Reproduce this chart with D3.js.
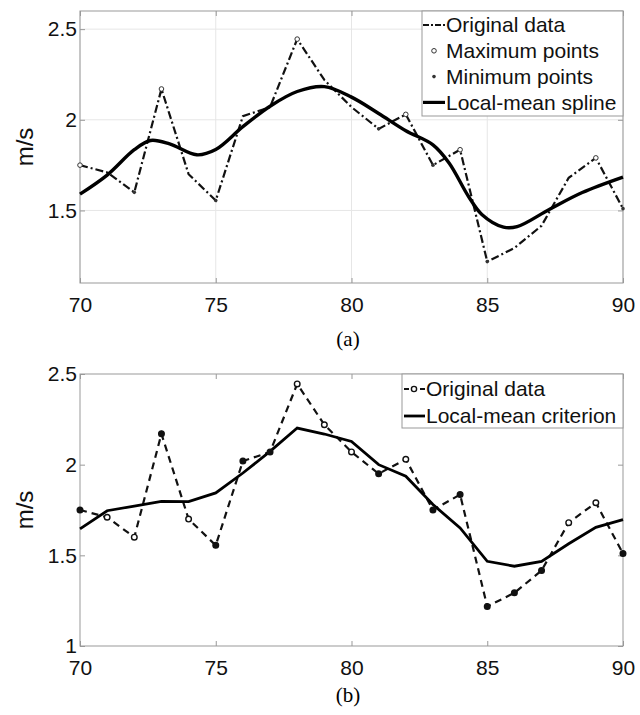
<!DOCTYPE html>
<html>
<head>
<meta charset="utf-8">
<script src="https://cdn.jsdelivr.net/npm/d3@7"></script>
<style>
  body { margin: 0; background: #fff; }
  text { font-family: "Liberation Sans", Arial, sans-serif; }
</style>
</head>
<body>
<div id="vis"></div>
<script>
// original wind speed samples (m/s)
let timeX = [70,71,72,73,74,75,76,77,78,79,80,81,82,83,84,85,86,87,88,89,90]
let original = [1.75,1.71,1.60,2.17,1.70,1.555,2.02,2.07,2.445,2.22,2.07,1.95,2.03,1.75,1.835,1.218,1.293,1.416,1.68,1.79,1.51]

// extrema used in panel (a)
let maxX = [70,73,78,82,84,89]
let minX = [72,75,81,83,85,90]

// local-mean spline
let splineX = [70,71,72,72.6,73.3,74.3,75,76,77,78,79,80,81,82,83,83.6,84.3,84.8,85.6,86.1,87.3,88.5,90]
let splineY = [1.59,1.695,1.835,1.886,1.867,1.807,1.836,1.962,2.075,2.156,2.183,2.125,2.035,1.94,1.862,1.761,1.58,1.478,1.408,1.411,1.507,1.599,1.684]

// local-mean criterion, panel (b)
let criterion = [1.646,1.746,1.772,1.798,1.796,1.844,1.954,2.073,2.202,2.169,2.128,2.0,1.936,1.78,1.651,1.467,1.44,1.467,1.564,1.654,1.697]
let filledB = [70,73,75,76,77,81,83,84,85,86,87,90]

let xTicks = [70,75,80,85,90]
let yTicksA = [1.5,2,2.5]
let yTicksB = [1,1.5,2,2.5]

let width = 640, height = 715
let left = 80, right = 623

let svg = d3.select('#vis').append('svg')
    .attr('width', width).attr('height', height)

let x = d3.scaleLinear().domain([70,90]).range([left,right])

function frame(g, y, yTicks, top, bottom, grid) {
    if (grid) {
        g.selectAll('.gx').data(xTicks).join('line')
            .attr('x1', d=>x(d)).attr('x2', d=>x(d))
            .attr('y1', top).attr('y2', bottom)
            .attr('stroke', '#e6e6e6')
        g.selectAll('.gy').data(yTicks).join('line')
            .attr('x1', left).attr('x2', right)
            .attr('y1', d=>y(d)).attr('y2', d=>y(d))
            .attr('stroke', '#e6e6e6')
    }
    // tick marks on top and right
    g.append('g').attr('transform', `translate(0,${top})`)
        .call(d3.axisTop(x).tickValues(xTicks).tickSize(-5).tickFormat(''))
    g.append('g').attr('transform', `translate(${right},0)`)
        .call(d3.axisRight(y).tickValues(yTicks).tickSize(-5).tickFormat(''))
    g.append('g').attr('transform', `translate(0,${bottom})`)
        .call(d3.axisBottom(x).tickValues(xTicks).tickSize(-5).tickPadding(14).tickFormat(d3.format('d')))
    g.append('g').attr('transform', `translate(${left},0)`)
        .call(d3.axisLeft(y).tickValues(yTicks).tickSize(-5).tickPadding(3).tickFormat(d=>String(d)))
    g.selectAll('.domain').remove()
    g.selectAll('.tick line').attr('stroke', '#999')
    g.selectAll('.tick text').attr('font-size', 21).attr('fill', '#111')
        .style('font-family', '"Liberation Sans", Arial, sans-serif')
    g.append('rect').attr('x', left).attr('y', top)
        .attr('width', right-left).attr('height', bottom-top)
        .attr('fill', 'none').attr('stroke', '#999')
    g.append('text').text('m/s')
        .attr('transform', `translate(33,${(top+bottom)/2}) rotate(-90)`)
        .attr('text-anchor', 'middle').attr('font-size', 24).attr('fill', '#111')
}

// ---------- panel (a)
let topA = 11, botA = 283
let yA = d3.scaleLinear().domain([1.1,2.6]).range([botA,topA])
let gA = svg.append('g')
frame(gA, yA, yTicksA, topA, botA, true)

let lineA = d3.line().x((d,i)=>x(timeX[i])).y(d=>yA(d))
gA.append('path').datum(original)
    .attr('d', lineA).attr('fill','none').attr('stroke','#111')
    .attr('stroke-width', 2.2).attr('stroke-dasharray', '8,3,2,3')

let splineLine = d3.line().curve(d3.curveCatmullRom.alpha(0.5))
    .x((d,i)=>x(splineX[i])).y(d=>yA(d))
gA.append('path').datum(splineY)
    .attr('d', splineLine).attr('fill','none').attr('stroke','#000')
    .attr('stroke-width', 3.4)

gA.selectAll('.mx').data(maxX).join('circle')
    .attr('cx', d=>x(d)).attr('cy', d=>yA(original[timeX.indexOf(d)]))
    .attr('r', 2.3).attr('fill','#fff').attr('stroke','#333').attr('stroke-width',1)
gA.selectAll('.mn').data(minX).join('circle')
    .attr('cx', d=>x(d)).attr('cy', d=>yA(original[timeX.indexOf(d)]))
    .attr('r', 1.8).attr('fill','#333')

// legend (a)
let legA = gA.append('g')
legA.append('rect').attr('x', 422).attr('y', topA).attr('width', right-422).attr('height', 105)
    .attr('fill','#fff').attr('stroke','#999')
let namesA = ['Original data','Maximum points','Minimum points','Local-mean spline']
namesA.forEach((n,i)=>{
    let cy = 25 + i*25.8
    legA.append('text').text(n).attr('x', 446).attr('y', cy).attr('dy','0.35em')
        .attr('font-size', 21).attr('fill','#111')
    if (i==0) legA.append('line').attr('x1',423).attr('x2',445).attr('y1',cy).attr('y2',cy)
        .attr('stroke','#111').attr('stroke-width',2).attr('stroke-dasharray','6,2,2,2')
    if (i==1) legA.append('circle').attr('cx',434).attr('cy',cy).attr('r',2.3)
        .attr('fill','#fff').attr('stroke','#333')
    if (i==2) legA.append('circle').attr('cx',434).attr('cy',cy).attr('r',1.8).attr('fill','#333')
    if (i==3) legA.append('line').attr('x1',423).attr('x2',445).attr('y1',cy).attr('y2',cy)
        .attr('stroke','#000').attr('stroke-width',3.2)
})

svg.append('text').text('(a)').attr('x', 348).attr('y', 339).attr('dy','0.35em')
    .attr('text-anchor','middle').attr('font-size', 21)
    .style('font-family','"Liberation Serif", "Times New Roman", serif')

// ---------- panel (b)
let topB = 374, botB = 646
let yB = d3.scaleLinear().domain([1,2.5]).range([botB,topB])
let gB = svg.append('g')
frame(gB, yB, yTicksB, topB, botB, false)

let lineB = d3.line().x((d,i)=>x(timeX[i])).y(d=>yB(d))
gB.append('path').datum(original)
    .attr('d', lineB).attr('fill','none').attr('stroke','#111')
    .attr('stroke-width', 2.2).attr('stroke-dasharray', '7,5')
gB.append('path').datum(criterion)
    .attr('d', lineB).attr('fill','none').attr('stroke','#000')
    .attr('stroke-width', 2.8)
gB.selectAll('.pt').data(original).join('circle')
    .attr('cx', (d,i)=>x(timeX[i])).attr('cy', d=>yB(d))
    .attr('r', 2.8)
    .attr('fill', (d,i)=>filledB.includes(timeX[i]) ? '#111' : '#fff')
    .attr('stroke','#111').attr('stroke-width',1.4)

// legend (b)
let legB = gB.append('g')
legB.append('rect').attr('x', 402).attr('y', topB).attr('width', right-402).attr('height', 54)
    .attr('fill','#fff').attr('stroke','#999')
let namesB = ['Original data','Local-mean criterion']
namesB.forEach((n,i)=>{
    let cy = 389 + i*27
    legB.append('text').text(n).attr('x', 426).attr('y', cy).attr('dy','0.35em')
        .attr('font-size', 21).attr('fill','#111')
    if (i==0) {
        legB.append('line').attr('x1',404).attr('x2',425).attr('y1',cy).attr('y2',cy)
            .attr('stroke','#111').attr('stroke-width',2).attr('stroke-dasharray','5,3')
        legB.append('circle').attr('cx',414).attr('cy',cy).attr('r',2.6)
            .attr('fill','#fff').attr('stroke','#111').attr('stroke-width',1.4)
    } else {
        legB.append('line').attr('x1',404).attr('x2',425).attr('y1',cy).attr('y2',cy)
            .attr('stroke','#000').attr('stroke-width',2.8)
    }
})

svg.append('text').text('(b)').attr('x', 348).attr('y', 695).attr('dy','0.35em')
    .attr('text-anchor','middle').attr('font-size', 21)
    .style('font-family','"Liberation Serif", "Times New Roman", serif')
</script>
</body>
</html>
